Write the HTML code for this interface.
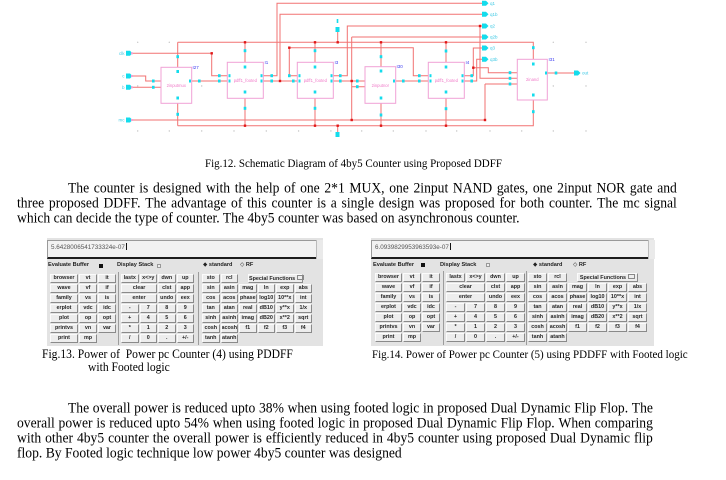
<!DOCTYPE html>
<html><head><meta charset="utf-8">
<style>
html,body{margin:0;padding:0;background:#fff;}
body{width:726px;height:480px;position:relative;overflow:hidden;font-family:"Liberation Serif",serif;}
.t{position:absolute;font:13.6px/15px "Liberation Serif",serif;color:#000;display:flex;justify-content:space-between;white-space:nowrap;transform:scaleY(1.12);transform-origin:0 8px;}
.n{position:absolute;font:13.6px/15px "Liberation Serif",serif;color:#000;white-space:nowrap;transform:scaleY(1.12);transform-origin:0 8px;}
.cap{position:absolute;font:11px/12px "Liberation Serif",serif;color:#000;white-space:nowrap;transform:scaleY(1.08);transform-origin:0 6px;}
.panel{position:absolute;background:#e3e3e3;}
.fld{position:absolute;background:#f2f2f2;border-top:1px solid #9a9a9a;border-left:1px solid #9a9a9a;border-right:2px solid #1e1e1e;border-bottom:2px solid #1e1e1e;font:6.3px/14px "Liberation Sans",sans-serif;color:#555;padding-left:3px;box-sizing:content-box;white-space:nowrap;}
.cur{display:inline-block;width:1px;height:7px;background:#111;vertical-align:-1px;margin-left:1px;}
.scr{position:absolute;background:#eaeaea;border-left:1px solid #bbb;}
.lb{position:absolute;font:bold 5.6px/7px "Liberation Sans","DejaVu Sans",sans-serif;color:#222;white-space:nowrap;}
.sq{position:absolute;width:4px;height:4px;background:#111;}
.sqo{position:absolute;width:4px;height:4px;border:1px solid #999;background:#eee;box-sizing:border-box;}
.g{position:absolute;display:grid;grid-auto-rows:9px;row-gap:1px;column-gap:1px;}
.g span{background:#ededed;border:1px solid;border-color:#fbfbfb #8a8a8a #8a8a8a #fbfbfb;font:bold 5.4px/7px "Liberation Sans",sans-serif;color:#262626;text-align:center;white-space:nowrap;overflow:hidden;box-sizing:border-box;}
.g span.e{background:none;border:none;}
.g span.s2{grid-column:span 2;}
.g span.s4{grid-column:span 4;}
.sf{position:absolute;height:9px;background:#ededed;border:1px solid;border-color:#fbfbfb #8a8a8a #8a8a8a #fbfbfb;box-sizing:border-box;font:bold 5.4px/7px "Liberation Sans",sans-serif;color:#262626;text-align:center;white-space:nowrap;}
.sf i{display:inline-block;width:5px;height:3px;border:1px solid #888;vertical-align:0;margin-left:2px;font-style:normal;}
.sep{position:absolute;width:1px;background:#9c9c9c;}
</style></head><body>

<svg width="726" height="140" style="position:absolute;left:0;top:0" xmlns="http://www.w3.org/2000/svg">
<g fill="#c4c4c4">
<circle cx="137.7" cy="42.3" r="0.7"/><circle cx="169.3" cy="42.3" r="0.7"/><circle cx="553.3" cy="42.3" r="0.7"/><circle cx="586" cy="42.3" r="0.7"/>
<circle cx="201.7" cy="86" r="0.7"/><circle cx="553.3" cy="86" r="0.7"/><circle cx="586" cy="86" r="0.7"/><circle cx="137.7" cy="86" r="0.7"/>
<circle cx="137.7" cy="131" r="0.7"/><circle cx="169.3" cy="131" r="0.7"/><circle cx="201.7" cy="131" r="0.7"/><circle cx="234" cy="131" r="0.7"/><circle cx="266.3" cy="131" r="0.7"/><circle cx="298.6" cy="131" r="0.7"/><circle cx="330.9" cy="131" r="0.7"/><circle cx="361.7" cy="131" r="0.7"/><circle cx="393.3" cy="131" r="0.7"/><circle cx="426" cy="131" r="0.7"/><circle cx="456.7" cy="131" r="0.7"/><circle cx="490" cy="131" r="0.7"/><circle cx="521.7" cy="131" r="0.7"/><circle cx="553.3" cy="131" r="0.7"/><circle cx="586" cy="131" r="0.7"/>
</g>
<g fill="none" stroke="#f27272" stroke-width="1">
<path d="M263,75.7H277V3.3H483"/>
<path d="M280,81V14.3H483"/>
<path d="M263,81H297"/>
<path d="M289.3,75.7H297M289.3,75.7V47.7H413.3V75.7H428"/>
<path d="M129,53.3H211.7V75.7H227"/>
<path d="M191.7,81H227"/>
<path d="M129,76H145.7V81H161M129,87.3H161"/>
<path d="M333.3,75.7H347.3V26H483M480,26V78.3H517"/>
<path d="M333.3,81H365M351.7,37V120M351.7,37H483M351.7,86.7H365"/>
<path d="M395.7,81H428"/>
<path d="M464.3,75.7H473.3V48H483M473.3,67.7H488.3V72.7H517"/>
<path d="M464.3,81H476.7V59.3H483"/>
<path d="M485,84H517M485,84V120"/>
<path d="M129,120H485"/>
<path d="M547.3,73H575"/>
<path d="M177.7,42.3H533.3V59.3"/>
<path d="M177.7,125.7H533.3V100"/>
<path d="M177.7,42.3V67.3M177.7,103.3V125.7M245,42.3V62.3M245,98.3V125.7M315,42.3V62.3M315,98.3V125.7M381,42.3V66.7M381,103.3V125.7M446,42.3V62.3M446,98.3V125.7"/>
<path d="M337.7,31.7V42.3M337.7,125.7V133"/>
</g>
<g fill="none" stroke="#f0a2d6" stroke-width="1">
<rect x="161" y="67.3" width="30.7" height="36"/>
<rect x="227.3" y="62.3" width="36" height="36"/>
<rect x="297.3" y="62.3" width="36" height="36"/>
<rect x="365" y="66.7" width="30.7" height="36.6"/>
<rect x="428.3" y="62.3" width="36" height="36"/>
<rect x="517.3" y="59.3" width="30" height="40.7"/>
</g>
<g fill="#e01818">
<rect x="210.5" y="52.1" width="2.4" height="2.4"/><rect x="278.8" y="79.8" width="2.4" height="2.4"/><rect x="288.1" y="46.5" width="2.4" height="2.4"/>
<rect x="243.8" y="41.1" width="2.4" height="2.4"/><rect x="313.8" y="41.1" width="2.4" height="2.4"/><rect x="379.8" y="41.1" width="2.4" height="2.4"/><rect x="444.8" y="41.1" width="2.4" height="2.4"/><rect x="336.5" y="41.1" width="2.4" height="2.4"/>
<rect x="243.8" y="124.5" width="2.4" height="2.4"/><rect x="313.8" y="124.5" width="2.4" height="2.4"/><rect x="379.8" y="124.5" width="2.4" height="2.4"/><rect x="444.8" y="124.5" width="2.4" height="2.4"/><rect x="336.5" y="124.5" width="2.4" height="2.4"/>
<rect x="350.5" y="79.8" width="2.4" height="2.4"/><rect x="350.5" y="118.8" width="2.4" height="2.4"/><rect x="478.8" y="24.8" width="2.4" height="2.4"/><rect x="472.1" y="66.5" width="2.4" height="2.4"/><rect x="483.8" y="118.8" width="2.4" height="2.4"/>
</g>
<g fill="#14dcec">
<rect x="176.4" y="55.2" width="2.6" height="3"/><rect x="243.7" y="49.2" width="2.6" height="3"/><rect x="313.7" y="49.2" width="2.6" height="3"/><rect x="379.7" y="55.2" width="2.6" height="3"/><rect x="444.7" y="49.5" width="2.6" height="3"/><rect x="532" y="46.2" width="2.6" height="3"/>
<rect x="176.4" y="112.8" width="2.6" height="3"/><rect x="243.7" y="106.8" width="2.6" height="3"/><rect x="313.7" y="106.8" width="2.6" height="3"/><rect x="379.7" y="113.5" width="2.6" height="3"/><rect x="444.7" y="107.2" width="2.6" height="3"/><rect x="532" y="110.2" width="2.6" height="3"/>
<rect x="176.4" y="70" width="2.6" height="3"/><rect x="243.7" y="65.5" width="2.6" height="3"/><rect x="313.7" y="65.5" width="2.6" height="3"/><rect x="379.7" y="69.5" width="2.6" height="3"/><rect x="444.7" y="65.5" width="2.6" height="3"/><rect x="532" y="62.5" width="2.6" height="3"/>
<rect x="176.4" y="96.5" width="2.6" height="3"/><rect x="243.7" y="90.5" width="2.6" height="3"/><rect x="313.7" y="90.5" width="2.6" height="3"/><rect x="379.7" y="96.5" width="2.6" height="3"/><rect x="444.7" y="90.5" width="2.6" height="3"/><rect x="532" y="93.5" width="2.6" height="3"/>
<rect x="152" y="79.5" width="2.6" height="3"/><rect x="152" y="85.8" width="2.6" height="3"/>
<rect x="218" y="74.2" width="2.6" height="3"/><rect x="218" y="79.5" width="2.6" height="3"/><rect x="228.5" y="74.2" width="2" height="3"/><rect x="228.5" y="79.5" width="2" height="3"/>
<rect x="288" y="74.2" width="2.6" height="3"/><rect x="292" y="79.5" width="2.6" height="3"/><rect x="298.5" y="74.2" width="2" height="3"/><rect x="298.5" y="79.5" width="2" height="3"/>
<rect x="356" y="79.5" width="2.6" height="3"/><rect x="356" y="85.2" width="2.6" height="3"/>
<rect x="418" y="74.2" width="2.6" height="3"/><rect x="418" y="79.5" width="2.6" height="3"/><rect x="429.5" y="74.2" width="2" height="3"/><rect x="429.5" y="79.5" width="2" height="3"/>
<rect x="508.7" y="71.2" width="2.6" height="3"/><rect x="508.7" y="76.8" width="2.6" height="3"/><rect x="508.7" y="82.5" width="2.6" height="3"/>
<rect x="198" y="79.5" width="2.6" height="3"/><rect x="189" y="79.5" width="2" height="3"/>
<rect x="270.4" y="74.2" width="2.6" height="3"/><rect x="270.4" y="79.5" width="2.6" height="3"/><rect x="260.5" y="74.2" width="2" height="3"/><rect x="260.5" y="79.5" width="2" height="3"/>
<rect x="339" y="74.2" width="2.6" height="3"/><rect x="339" y="79.5" width="2.6" height="3"/><rect x="330.5" y="74.2" width="2" height="3"/><rect x="330.5" y="79.5" width="2" height="3"/>
<rect x="402" y="79.5" width="2.6" height="3"/><rect x="393" y="79.5" width="2" height="3"/>
<rect x="470.4" y="74.2" width="2.6" height="3"/><rect x="470.4" y="79.5" width="2.6" height="3"/><rect x="461.5" y="74.2" width="2" height="3"/><rect x="461.5" y="79.5" width="2" height="3"/>
<rect x="554.7" y="71.5" width="2.6" height="3"/><rect x="545" y="71.5" width="2" height="3"/>
<polygon points="126,50.8 130,50.8 132.5,53.3 130,55.8 126,55.8"/>
<polygon points="126,73.5 130,73.5 132.5,76 130,78.5 126,78.5"/>
<polygon points="126,84.8 130,84.8 132.5,87.3 130,89.8 126,89.8"/>
<polygon points="126,117.5 130,117.5 132.5,120 130,122.5 126,122.5"/>
<polygon points="482,0.8 486,0.8 488.5,3.3 486,5.8 482,5.8"/>
<polygon points="482,11.8 486,11.8 488.5,14.3 486,16.8 482,16.8"/>
<polygon points="482,23.5 486,23.5 488.5,26 486,28.5 482,28.5"/>
<polygon points="482,34.5 486,34.5 488.5,37 486,39.5 482,39.5"/>
<polygon points="482,45.5 486,45.5 488.5,48 486,50.5 482,50.5"/>
<polygon points="482,56.8 486,56.8 488.5,59.3 486,61.8 482,61.8"/>
<polygon points="574,70.5 578,70.5 580.5,73 578,75.5 574,75.5"/>
<rect x="335.5" y="27" width="4" height="5"/><rect x="336.7" y="19" width="1.6" height="4"/>
<rect x="335.5" y="132" width="4" height="5"/>
</g>
<g fill="#f0a2d6" stroke="none">
<rect x="131" y="52.3" width="2" height="2"/><rect x="131" y="75" width="2" height="2"/><rect x="131" y="86.3" width="2" height="2"/><rect x="131" y="119" width="2" height="2"/>
</g>
<g font-family="Liberation Sans, sans-serif" font-size="4.2" fill="#f07ac8" text-anchor="middle">
<text x="176.3" y="87">2inputmux</text>
<text x="245.3" y="82">pdff1_footed</text>
<text x="315.3" y="82">pdff1_footed</text>
<text x="380.3" y="87">2inputnor</text>
<text x="446.3" y="82">pdff1_footed</text>
<text x="532.3" y="81">2inand</text>
</g>
<g font-family="Liberation Sans, sans-serif" font-size="4.5" fill="#3b3bf0">
<text x="192.5" y="69">I27</text><text x="264.5" y="64">I1</text><text x="334.5" y="64">I3</text><text x="396.5" y="68">I30</text><text x="465.5" y="64">I4</text><text x="548.5" y="61">I31</text>
</g>
<g font-family="Liberation Sans, sans-serif" font-size="4.5" fill="#3cc8e4">
<text x="124.5" y="55" text-anchor="end">clk</text><text x="124.5" y="77.5" text-anchor="end">c</text><text x="124.5" y="89" text-anchor="end">b</text><text x="124.5" y="121.6" text-anchor="end">mc</text>
<text x="490" y="5">q1</text><text x="490" y="16">q1b</text><text x="490" y="27.6">q2</text><text x="490" y="38.6">q2b</text><text x="490" y="49.6">q3</text><text x="490" y="61">q3b</text>
<text x="582" y="74.6">out</text>
</g>
</svg>

<div class="cap" style="left:205px;top:158px">Fig.12. Schematic Diagram of 4by5 Counter using Proposed DDFF</div>

<div class="t" style="left:68px;top:179.5px;width:609px"><span>The</span><span>counter</span><span>is</span><span>designed</span><span>with</span><span>the</span><span>help</span><span>of</span><span>one</span><span>2*1</span><span>MUX,</span><span>one</span><span>2input</span><span>NAND</span><span>gates,</span><span>one</span><span>2input</span><span>NOR</span><span>gate</span><span>and</span></div>
<div class="t" style="left:17px;top:194.5px;width:660px"><span>three</span><span>proposed</span><span>DDFF.</span><span>The</span><span>advantage</span><span>of</span><span>this</span><span>counter</span><span>is</span><span>a</span><span>single</span><span>design</span><span>was</span><span>proposed</span><span>for</span><span>both</span><span>counter.</span><span>The</span><span>mc</span><span>signal</span></div>
<div class="n" style="left:17px;top:209.5px">which can decide the type of counter. The 4by5 counter was based on asynchronous counter.</div>

<!-- Left calculator -->
<div class="panel" style="left:47px;top:238px;width:276px;height:108px"></div>
<div class="fld" style="left:47px;top:240px;width:265px;height:16px">5.6428006541733324e-07<span class="cur"></span></div>
<div class="scr" style="left:316px;top:240px;width:6px;height:19px"></div>
<div class="lb" style="left:48px;top:262px">Evaluate Buffer</div>
<div class="sq" style="left:99px;top:263.5px"></div>
<div class="lb" style="left:117px;top:262px">Display Stack</div>
<div class="sqo" style="left:157px;top:263.5px"></div>
<div class="lb" style="left:203px;top:262px">&#9670; standard</div>
<div class="lb" style="left:240px;top:262px">&#9671; RF</div>
<div class="sep" style="left:118px;top:272px;height:73px"></div>
<div class="sep" style="left:198px;top:272px;height:73px"></div>
<div class="g" style="left:50px;top:274px;grid-template-columns:28px 18px 18px">
<span>browser</span><span>vt</span><span>it</span>
<span>wave</span><span>vf</span><span>if</span>
<span>family</span><span>vs</span><span>is</span>
<span>erplot</span><span>vdc</span><span>idc</span>
<span>plot</span><span>op</span><span>opt</span>
<span>printvs</span><span>vn</span><span>var</span>
<span>print</span><span>mp</span><span class="e"></span>
</div>
<div class="g" style="left:121px;top:274px;grid-template-columns:repeat(4,17.5px)">
<span>lastx</span><span>x&lt;&gt;y</span><span>dwn</span><span>up</span>
<span class="s2">clear</span><span>clst</span><span>app</span>
<span class="s2">enter</span><span>undo</span><span>eex</span>
<span>-</span><span>7</span><span>8</span><span>9</span>
<span>+</span><span>4</span><span>5</span><span>6</span>
<span>*</span><span>1</span><span>2</span><span>3</span>
<span>/</span><span>0</span><span>.</span><span>+/-</span>
</div>
<div class="g" style="left:202px;top:274px;grid-template-columns:repeat(6,17.5px)">
<span>sto</span><span>rcl</span><span class="e s4"></span>
<span>sin</span><span>asin</span><span>mag</span><span>ln</span><span>exp</span><span>abs</span>
<span>cos</span><span>acos</span><span>phase</span><span>log10</span><span>10**x</span><span>int</span>
<span>tan</span><span>atan</span><span>real</span><span>dB10</span><span>y**x</span><span>1/x</span>
<span>sinh</span><span>asinh</span><span>imag</span><span>dB20</span><span>x**2</span><span>sqrt</span>
<span>cosh</span><span>acosh</span><span>f1</span><span>f2</span><span>f3</span><span>f4</span>
<span>tanh</span><span>atanh</span><span class="e"></span><span class="e"></span><span class="e"></span><span class="e"></span>
</div>
<div class="sf" style="left:248px;top:274px;width:55px">Special Functions<i></i></div>

<!-- Right calculator -->
<div class="panel" style="left:371px;top:238px;width:283px;height:108px"></div>
<div class="fld" style="left:371px;top:240px;width:273px;height:16px">6.0939829953963593e-07<span class="cur"></span></div>
<div class="scr" style="left:648px;top:240px;width:6px;height:19px"></div>
<div class="lb" style="left:373px;top:261.5px">Evaluate Buffer</div>
<div class="sq" style="left:421px;top:263px"></div>
<div class="lb" style="left:440px;top:261.5px">Display Stack</div>
<div class="sqo" style="left:486px;top:263px"></div>
<div class="lb" style="left:533px;top:261.5px">&#9670; standard</div>
<div class="lb" style="left:573px;top:261.5px">&#9671; RF</div>
<div class="sep" style="left:443px;top:271px;height:74px"></div>
<div class="sep" style="left:526px;top:271px;height:74px"></div>
<div class="g" style="left:375px;top:273px;grid-template-columns:27px 18px 18px">
<span>browser</span><span>vt</span><span>it</span>
<span>wave</span><span>vf</span><span>if</span>
<span>family</span><span>vs</span><span>is</span>
<span>erplot</span><span>vdc</span><span>idc</span>
<span>plot</span><span>op</span><span>opt</span>
<span>printvs</span><span>vn</span><span>var</span>
<span>print</span><span>mp</span><span class="e"></span>
</div>
<div class="g" style="left:446px;top:273px;grid-template-columns:repeat(4,19px)">
<span>lastx</span><span>x&lt;&gt;y</span><span>dwn</span><span>up</span>
<span class="s2">clear</span><span>clst</span><span>app</span>
<span class="s2">enter</span><span>undo</span><span>eex</span>
<span>-</span><span>7</span><span>8</span><span>9</span>
<span>+</span><span>4</span><span>5</span><span>6</span>
<span>*</span><span>1</span><span>2</span><span>3</span>
<span>/</span><span>0</span><span>.</span><span>+/-</span>
</div>
<div class="g" style="left:528px;top:273px;grid-template-columns:repeat(6,19px)">
<span>sto</span><span>rcl</span><span class="e s4"></span>
<span>sin</span><span>asin</span><span>mag</span><span>ln</span><span>exp</span><span>abs</span>
<span>cos</span><span>acos</span><span>phase</span><span>log10</span><span>10**x</span><span>int</span>
<span>tan</span><span>atan</span><span>real</span><span>dB10</span><span>y**x</span><span>1/x</span>
<span>sinh</span><span>asinh</span><span>imag</span><span>dB20</span><span>x**2</span><span>sqrt</span>
<span>cosh</span><span>acosh</span><span>f1</span><span>f2</span><span>f3</span><span>f4</span>
<span>tanh</span><span>atanh</span><span class="e"></span><span class="e"></span><span class="e"></span><span class="e"></span>
</div>
<div class="sf" style="left:577px;top:273px;width:61px">Special Functions<i></i></div>

<div class="cap" style="left:42px;top:349px;font-size:11.6px">Fig.13. Power of&nbsp; Power pc Counter (4) using PDDFF</div>
<div class="cap" style="left:88px;top:362px;font-size:11.6px">with Footed logic</div>
<div class="cap" style="left:372px;top:349px">Fig.14. Power of Power pc Counter (5) using PDDFF with Footed logic</div>

<div class="t" style="left:68px;top:400px;width:585px"><span>The</span><span>overall</span><span>power</span><span>is</span><span>reduced</span><span>upto</span><span>38%</span><span>when</span><span>using</span><span>footed</span><span>logic</span><span>in</span><span>proposed</span><span>Dual</span><span>Dynamic</span><span>Flip</span><span>Flop.</span><span>The</span></div>
<div class="t" style="left:17px;top:415px;width:636px"><span>overall</span><span>power</span><span>is</span><span>reduced</span><span>upto</span><span>54%</span><span>when</span><span>using</span><span>footed</span><span>logic</span><span>in</span><span>proposed</span><span>Dual</span><span>Dynamic</span><span>Flip</span><span>Flop.</span><span>When</span><span>comparing</span></div>
<div class="t" style="left:17px;top:430px;width:636px"><span>with</span><span>other</span><span>4by5</span><span>counter</span><span>the</span><span>overall</span><span>power</span><span>is</span><span>efficiently</span><span>reduced</span><span>in</span><span>4by5</span><span>counter</span><span>using</span><span>proposed</span><span>Dual</span><span>Dynamic</span><span>flip</span></div>
<div class="n" style="left:17px;top:445px">flop. By Footed logic technique low power 4by5 counter was designed</div>

</body></html>
